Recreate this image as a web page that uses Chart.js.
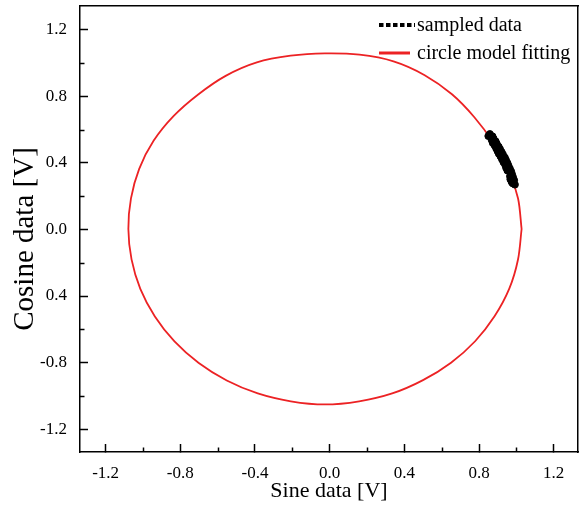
<!DOCTYPE html>
<html><head><meta charset="utf-8">
<script src="https://cdn.jsdelivr.net/npm/chart.js@4.4.1/dist/chart.umd.min.js"></script>
<style>html,body{margin:0;padding:0;background:#fff}</style>
</head><body>
<canvas id="c" width="583" height="508"></canvas>
<script>
// ---- data ----
const seriesLabels = ['sampled data', 'circle model fitting'];

const circleX = [1.028, 1.009, 0.957, 0.876, 0.775, 0.655, 0.509, 0.342, 0.160, -0.025,
  -0.209, -0.390, -0.557, -0.704, -0.835, -0.943, -1.020, -1.064, -1.078,
  -1.061, -1.014, -0.936, -0.831, -0.701, -0.551, -0.385, -0.208, -0.025,
  0.158, 0.335, 0.500, 0.650, 0.779, 0.883, 0.962, 1.009, 1.028];
const circleY = [0.003, 0.186, 0.360, 0.523, 0.675, 0.813, 0.928, 1.011, 1.051, 1.059,
  1.045, 1.005, 0.924, 0.812, 0.683, 0.533, 0.365, 0.187, 0.003,
  -0.180, -0.357, -0.523, -0.673, -0.803, -0.908, -0.986, -1.033, -1.052,
  -1.033, -0.986, -0.906, -0.801, -0.672, -0.522, -0.356, -0.179, 0.003];

const sampledX = [0.858, 0.872, 0.868, 0.889, 0.884, 0.905, 0.899, 0.921, 0.915, 0.938,
  0.931, 0.952, 0.945, 0.965, 0.958, 0.977, 0.968, 0.988, 0.980, 0.992,
  0.850, 0.866, 0.878, 0.874, 0.895, 0.892, 0.912, 0.906, 0.928, 0.923,
  0.944, 0.940, 0.958, 0.952, 0.972, 0.966, 0.982, 0.975];
const sampledY = [0.574, 0.560, 0.538, 0.530, 0.505, 0.498, 0.472, 0.466, 0.440, 0.433,
  0.405, 0.400, 0.372, 0.366, 0.354, 0.331, 0.302, 0.296, 0.278, 0.270,
  0.562, 0.552, 0.546, 0.520, 0.515, 0.488, 0.484, 0.456, 0.451, 0.423,
  0.418, 0.390, 0.383, 0.355, 0.349, 0.320, 0.314, 0.286];

const xTickValues = [-1.2, -0.8, -0.4, 0.0, 0.4, 0.8, 1.2];
const xTickLabels = ['-1.2', '-0.8', '-0.4', '0.0', '0.4', '0.8', '1.2'];
const yTickValues = [-1.2, -0.8, -0.4, 0.0, 0.4, 0.8, 1.2];
const yTickLabels = ['-1.2', '-0.8', '0.4', '0.0', '0.4', '0.8', '1.2'];
const minorTickValues = [-1.0, -0.6, -0.2, 0.2, 0.6, 1.0];
const xAxisTitle = 'Sine data [V]';
const yAxisTitle = 'Cosine data [V]';

// ---- styling ----
const FONT = '"Liberation Serif", "Times New Roman", serif';
const RED = 'rgb(236,34,36)';

const toPts = (xs, ys) => xs.map((x, i) => ({ x: x, y: ys[i] }));
const noPad = (axis) => { axis.paddingTop = 0; axis.paddingBottom = 0; axis.paddingLeft = 0; axis.paddingRight = 0; };

// shift the rotated y-axis title slightly downward, as in the reference
const yTitleShiftPlugin = {
  id: 'yTitleShift',
  afterLayout(chart) {
    const s = chart.scales.y;
    if (s && !s._shiftPatched) {
      const orig = s.drawTitle.bind(s);
      s.drawTitle = function () {
        const ctx = chart.ctx;
        ctx.save(); ctx.translate(0, 10); orig(); ctx.restore();
      };
      s._shiftPatched = true;
    }
  }
};

const minorTicksPlugin = {
  id: 'minorTicks',
  afterDraw(chart) {
    const ctx = chart.ctx, ca = chart.chartArea;
    const xs = chart.scales.x, ys = chart.scales.y;
    ctx.save();
    ctx.strokeStyle = '#000';
    ctx.lineWidth = 1.5;
    minorTickValues.forEach(v => {
      const px = Math.round(xs.getPixelForValue(v)) + 0.5;
      ctx.beginPath(); ctx.moveTo(px, ca.bottom); ctx.lineTo(px, ca.bottom - 4.5); ctx.stroke();
      const py = Math.round(ys.getPixelForValue(v)) + 0.5;
      ctx.beginPath(); ctx.moveTo(ca.left, py); ctx.lineTo(ca.left + 4.5, py); ctx.stroke();
    });
    ctx.restore();
  }
};

const legendPlugin = {
  id: 'innerLegend',
  afterDraw(chart) {
    const ctx = chart.ctx, ca = chart.chartArea;
    const x0 = ca.right - 199;
    const rows = [ca.top + 19, ca.top + 47];
    const lens = [36, 31];
    ctx.save();
    ctx.font = '20px ' + FONT;
    ctx.textBaseline = 'middle';
    ctx.textAlign = 'left';
    chart.data.datasets.forEach((ds, i) => {
      const y = rows[i];
      ctx.beginPath();
      ctx.strokeStyle = ds.borderColor;
      ctx.lineWidth = ds.legendLineWidth;
      ctx.setLineDash(ds.legendDash);
      ctx.moveTo(x0, y); ctx.lineTo(x0 + lens[i], y); ctx.stroke();
      ctx.setLineDash([]);
      ctx.fillStyle = '#000';
      ctx.fillText(ds.label, x0 + 38, y + 1);
    });
    ctx.restore();
  }
};

new Chart(document.getElementById('c'), {
  type: 'scatter',
  data: {
    datasets: [
      {
        label: seriesLabels[0],
        data: toPts(sampledX, sampledY),
        showLine: false,
        pointRadius: 3.5,
        pointBackgroundColor: '#000',
        pointBorderColor: '#000',
        borderColor: '#000',
        backgroundColor: '#000',
        legendLineWidth: 4,
        legendDash: [4.5, 2.5]
      },
      {
        label: seriesLabels[1],
        data: toPts(circleX, circleY),
        showLine: true,
        pointRadius: 0,
        borderColor: RED,
        backgroundColor: RED,
        borderWidth: 1.8,
        tension: 0.3,
        legendLineWidth: 3,
        legendDash: []
      }
    ]
  },
  options: {
    responsive: false,
    devicePixelRatio: 1,
    animation: false,
    layout: { padding: { top: 6, right: 2, left: 0, bottom: 0 } },
    plugins: { legend: { display: false }, tooltip: { enabled: false } },
    scales: {
      x: {
        type: 'linear', position: 'bottom', min: -1.337, max: 1.33,
        afterBuildTicks: (axis) => { axis.ticks = xTickValues.map(v => ({ value: v })); },
        afterFit: (axis) => { axis.height = 56; noPad(axis); },
        ticks: {
          callback: (v) => { const i = xTickValues.findIndex(t => Math.abs(t - v) < 1e-6); return i >= 0 ? xTickLabels[i] : ''; },
          color: '#000', font: { family: FONT, size: 17 }, padding: 19, maxRotation: 0, autoSkip: false
        },
        grid: { drawOnChartArea: false, drawTicks: true, tickLength: -8, tickWidth: 1.5, tickColor: '#000' },
        border: { display: true, color: '#000', width: 1.5 },
        title: { display: true, text: xAxisTitle, color: '#000', font: { family: FONT, size: 22 }, padding: { top: 0, bottom: 4 } }
      },
      y: {
        type: 'linear', position: 'left', min: -1.338, max: 1.344,
        afterBuildTicks: (axis) => { axis.ticks = yTickValues.map(v => ({ value: v })); },
        afterFit: (axis) => { axis.width = 80; noPad(axis); },
        ticks: {
          callback: (v) => { const i = yTickValues.findIndex(t => Math.abs(t - v) < 1e-6); return i >= 0 ? yTickLabels[i] : ''; },
          color: '#000', font: { family: FONT, size: 17 }, padding: 21, autoSkip: false
        },
        grid: { drawOnChartArea: false, drawTicks: true, tickLength: -8, tickWidth: 1.5, tickColor: '#000' },
        border: { display: true, color: '#000', width: 1.5 },
        title: { display: true, text: yAxisTitle, color: '#000', font: { family: FONT, size: 29 }, padding: { top: 8, bottom: 0 } }
      },
      x2: {
        type: 'linear', position: 'top', min: -1.337, max: 1.33,
        afterFit: (axis) => { axis.height = 0; noPad(axis); },
        ticks: { display: false }, grid: { drawOnChartArea: false, drawTicks: false },
        border: { display: true, color: '#000', width: 1.5 }
      },
      y2: {
        type: 'linear', position: 'right', min: -1.338, max: 1.344,
        afterFit: (axis) => { axis.width = 0; noPad(axis); },
        ticks: { display: false }, grid: { drawOnChartArea: false, drawTicks: false },
        border: { display: true, color: '#000', width: 1.5 }
      }
    }
  },
  plugins: [yTitleShiftPlugin, minorTicksPlugin, legendPlugin]
});
</script>
</body></html>
